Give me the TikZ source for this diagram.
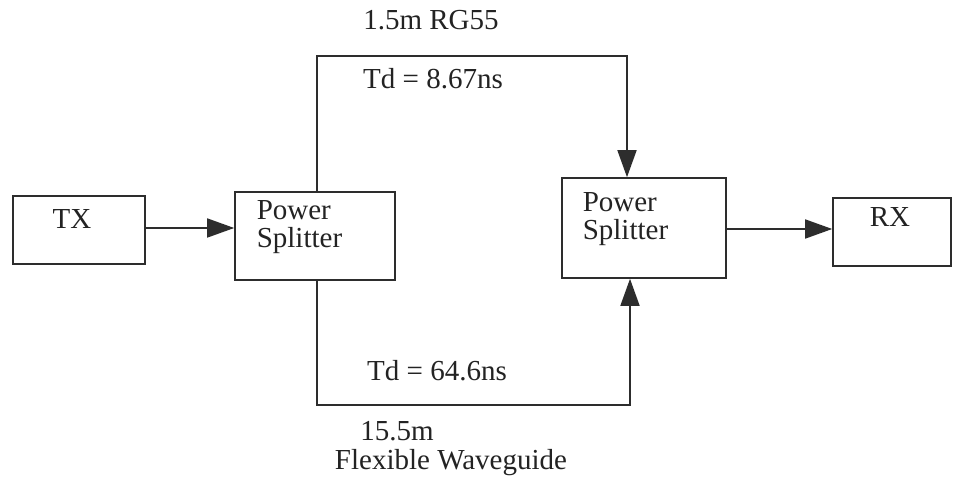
\documentclass[tikz,border=0pt]{standalone}
\usepackage{fontspec}
\setmainfont{Liberation Serif}
\usetikzlibrary{arrows.meta}
\begin{document}
\begin{tikzpicture}[x=1pt,y=-1pt,
  line width=1.6pt, draw={rgb,255:red,45;green,45;blue,45},
  every node/.style={font=\fontsize{29}{32}\selectfont, text={rgb,255:red,35;green,35;blue,35}},
  blk/.style={draw, rectangle, inner sep=0pt},
  arr/.style={-{Triangle[length=27pt,width=19pt]}},
  lbl/.style={inner sep=0pt, anchor=base}]
\useasboundingbox (0,0) rectangle (956,478);
\fill[white] (0,0) rectangle (956,478);
% boxes
\node[blk, minimum width=132pt, minimum height=68pt] (tx) at (79,230) {};
\node[lbl] (txt) at (72,229) {TX};
\node[blk, minimum width=160pt, minimum height=88pt] (ps1) at (315,236) {};
\node[lbl, anchor=base west] (ps1a) at (256,220) {Power};
\node[lbl, anchor=base west] (ps1b) at (256,248) {Splitter};
\node[blk, minimum width=164pt, minimum height=100pt] (ps2) at (644,228) {};
\node[lbl, anchor=base west] (ps2a) at (582,212) {Power};
\node[lbl, anchor=base west] (ps2b) at (582,240) {Splitter};
\node[blk, minimum width=118pt, minimum height=68pt] (rx) at (892,232) {};
\node[lbl] (rxt) at (890,227) {RX};
% corners
\coordinate (c1) at (317,56);
\coordinate (c2) at (627,56);
\coordinate (c3) at (317,405);
\coordinate (c4) at (630,405);
% connectors
\draw[arr] (tx.east |- 0,228) -- (ps1.west |- 0,228);
\draw[arr] (ps2.east |- 0,229) -- (rx.west |- 0,229);
\draw[arr] (ps1.north -| c1) -- (c1) -- (c2) -- (ps2.north -| c2);
\draw[arr] (ps1.south -| c3) -- (c3) -- (c4) -- (ps2.south -| c4);
% labels
\node[lbl] (l1) at (431,30) {1.5m RG55};
\node[lbl] (l2) at (433,89) {Td = 8.67ns};
\node[lbl] (l3) at (437,380) {Td = 64.6ns};
\node[lbl] (l4) at (397,440) {15.5m};
\node[lbl] (l5) at (451,469) {Flexible Waveguide};
\end{tikzpicture}
\end{document}
